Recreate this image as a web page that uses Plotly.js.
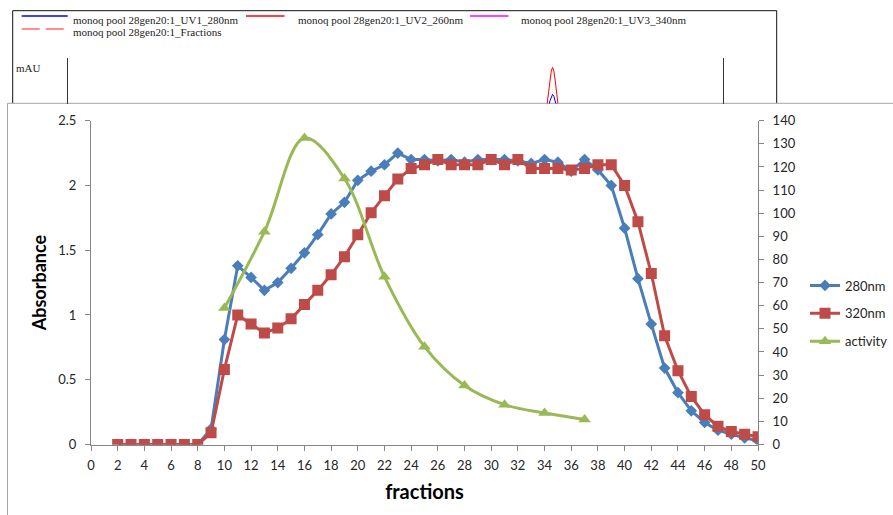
<!DOCTYPE html>
<html>
<head>
<meta charset="utf-8">
<script src="https://cdn.plot.ly/plotly-3.0.1.min.js"></script>
<style>html,body{margin:0;padding:0;background:#fff;}#chart{width:893px;height:515px;}</style>
</head>
<body>
<div id="chart"></div>
<script>
// ---------- data ----------
const fractions = [2,3,4,5,6,7,8,9,10,11,12,13,14,15,16,17,18,19,20,21,22,23,24,25,26,27,28,29,30,31,32,33,34,35,36,37,38,39,40,41,42,43,44,45,46,47,48,49,50];
const abs280 = [0,0,0,0,0,0,0,0.12,0.81,1.38,1.29,1.19,1.25,1.36,1.48,1.62,1.78,1.87,2.04,2.11,2.16,2.25,2.20,2.20,2.19,2.20,2.18,2.20,2.20,2.20,2.19,2.17,2.20,2.18,2.11,2.20,2.12,2.00,1.67,1.28,0.93,0.59,0.40,0.26,0.17,0.11,0.08,0.05,0.03];
const abs320 = [0,0,0,0,0,0,0,0.09,0.58,1.00,0.93,0.86,0.90,0.97,1.08,1.19,1.31,1.45,1.62,1.79,1.92,2.05,2.13,2.16,2.20,2.16,2.16,2.16,2.20,2.16,2.20,2.13,2.13,2.13,2.12,2.13,2.16,2.16,2.00,1.72,1.32,0.84,0.57,0.37,0.23,0.14,0.10,0.08,0.06];
const activityFractions = [10,13,16,19,22,25,28,31,34,37];
const activity = [59,92,132.5,115,72.5,42.3,25.5,17.2,13.6,10.8];
const seriesNames = ['280nm','320nm','activity'];

// chromatogram fragment visible behind the chart (top strip)
const chromVolume = [72.8,73.1,73.4,73.6,73.8,74.0,74.2,74.4,74.6,74.9,75.2];
const chromUV260 = [8,23,48,66,80,85.5,80,66,48,23,8];
const chromUV280 = [4,12,25,34,41,44,41,34,25,12,4];
const chromLegend = ['monoq pool 28gen20:1_UV1_280nm','monoq pool 28gen20:1_UV2_260nm','monoq pool 28gen20:1_UV3_340nm','monoq pool 28gen20:1_Fractions'];

// ---------- page geometry helpers ----------
const W = 893, H = 515;
const px = x => x / W;
const py = y => 1 - y / H;

const BLUE = '#4A7EBB', RED = '#BE4B48', GREEN = '#98B954';
const AX = '#868686', TXT = '#262626';
const FONT = 'Lato, "Open Sans", sans-serif';
const SERIF = '"Liberation Serif", "DejaVu Serif", serif';

const traces = [
  {x: fractions, y: abs280, name: seriesNames[0], type: 'scatter', mode: 'lines+markers',
   xaxis: 'x', yaxis: 'y', legendgroup: 'a',
   line: {color: BLUE, width: 3}, marker: {symbol: 'diamond', size: 9, color: BLUE}},
  {x: fractions, y: abs320, name: seriesNames[1], type: 'scatter', mode: 'lines+markers',
   xaxis: 'x', yaxis: 'y', legendgroup: 'b',
   line: {color: RED, width: 3}, marker: {symbol: 'square', size: 11, color: RED}},
  {x: activityFractions, y: activity, name: seriesNames[2], type: 'scatter', mode: 'lines+markers',
   xaxis: 'x', yaxis: 'y2', legendgroup: 'c',
   line: {color: GREEN, width: 3, shape: 'spline', smoothing: 1}, marker: {symbol: 'triangle-up', size: 11, color: GREEN}},
  {x: chromVolume, y: chromUV260, type: 'scatter', mode: 'lines', xaxis: 'x3', yaxis: 'y3',
   showlegend: false, hoverinfo: 'skip', line: {color: '#ff0000', width: 1}},
  {x: chromVolume, y: chromUV280, type: 'scatter', mode: 'lines', xaxis: 'x3', yaxis: 'y3',
   showlegend: false, hoverinfo: 'skip', line: {color: '#0000ff', width: 1}}
];

const axisCommon = {
  showline: true, linecolor: AX, linewidth: 1, ticks: 'outside', ticklen: 5, tickcolor: AX,
  showgrid: false, zeroline: false, tickfont: {family: FONT, size: 13, color: TXT}, fixedrange: true
};

const layout = {
  width: W, height: H,
  margin: {l: 0, r: 0, t: 0, b: 0},
  paper_bgcolor: '#ffffff', plot_bgcolor: 'rgba(0,0,0,0)',
  font: {family: FONT, color: TXT},
  showlegend: true,
  legend: {x: px(805), xanchor: 'left', y: py(313.5), yanchor: 'middle',
           font: {family: FONT, size: 13, color: TXT}, tracegroupgap: 8, bgcolor: 'rgba(0,0,0,0)'},
  xaxis: Object.assign({}, axisCommon, {
    domain: [px(91), px(758)], range: [0, 50], tick0: 0, dtick: 2, anchor: 'y',
    ticklabelstandoff: 4,
    title: {text: 'fractions', standoff: 12, font: {family: FONT, size: 20, color: '#000', weight: 'bold'}}
  }),
  yaxis: Object.assign({}, axisCommon, {
    domain: [1 - 444.5 / H, 1 - 120.7 / H], range: [0, 2.5], tick0: 0, dtick: 0.5, anchor: 'x',
    ticklabelstandoff: 6,
    title: {text: 'Absorbance', standoff: 6, font: {family: FONT, size: 18, color: '#000', weight: 'bold'}}
  }),
  yaxis2: Object.assign({}, axisCommon, {
    overlaying: 'y', side: 'right', anchor: 'x', range: [0, 140], tick0: 0, dtick: 10,
    ticklabelstandoff: 6
  }),
  xaxis3: {domain: [px(68.3), px(722.7)], range: [0, 100], visible: false, anchor: 'y3', fixedrange: true},
  yaxis3: {domain: [py(103.5), py(58)], range: [30, 100], anchor: 'x3', showline: true, mirror: true,
           linecolor: '#333', linewidth: 1.5, ticks: '', showticklabels: false, showgrid: false,
           zeroline: false, fixedrange: true},
  shapes: [
    // chromatogram frame (partly hidden by the chart)
    {type: 'rect', xref: 'paper', yref: 'paper', layer: 'below',
     x0: px(12.7), x1: px(776.7), y0: py(10.7), y1: py(120), line: {color: '#111', width: 1}, fillcolor: 'rgba(0,0,0,0)'},
    // excel chart area
    {type: 'rect', xref: 'paper', yref: 'paper', layer: 'below',
     x0: px(7.5), x1: px(905), y0: py(103.3), y1: py(530), line: {color: '#a6a6a6', width: 1}, fillcolor: '#ffffff'},
    // chromatogram legend samples
    {type: 'line', xref: 'paper', yref: 'paper', x0: px(21.7), x1: px(67.7), y0: py(16), y1: py(16), line: {color: '#0000ff', width: 1.5}},
    {type: 'line', xref: 'paper', yref: 'paper', x0: px(246), x1: px(284.5), y0: py(16), y1: py(16), line: {color: '#ff0000', width: 1.5}},
    {type: 'line', xref: 'paper', yref: 'paper', x0: px(470), x1: px(508.5), y0: py(16), y1: py(16), line: {color: '#ff00ff', width: 1.5}},
    {type: 'line', xref: 'paper', yref: 'paper', x0: px(21.7), x1: px(66), y0: py(29), y1: py(29), line: {color: '#ff6a6a', width: 1.5, dash: '18px,6px'}}
  ],
  annotations: [
    {text: chromLegend[0], x: px(71), y: py(19.5), xref: 'paper', yref: 'paper', xanchor: 'left', yanchor: 'middle', showarrow: false, font: {family: SERIF, size: 11, color: '#222'}},
    {text: chromLegend[1], x: px(296), y: py(19.5), xref: 'paper', yref: 'paper', xanchor: 'left', yanchor: 'middle', showarrow: false, font: {family: SERIF, size: 11, color: '#222'}},
    {text: chromLegend[2], x: px(519), y: py(19.5), xref: 'paper', yref: 'paper', xanchor: 'left', yanchor: 'middle', showarrow: false, font: {family: SERIF, size: 11, color: '#222'}},
    {text: chromLegend[3], x: px(71), y: py(32), xref: 'paper', yref: 'paper', xanchor: 'left', yanchor: 'middle', showarrow: false, font: {family: SERIF, size: 11, color: '#222'}},
    {text: 'mAU', x: px(14), y: py(68), xref: 'paper', yref: 'paper', xanchor: 'left', yanchor: 'middle', showarrow: false, font: {family: SERIF, size: 11, color: '#222'}}
  ]
};

Plotly.newPlot('chart', traces, layout, {staticPlot: true, displayModeBar: false});
</script>
</body>
</html>
